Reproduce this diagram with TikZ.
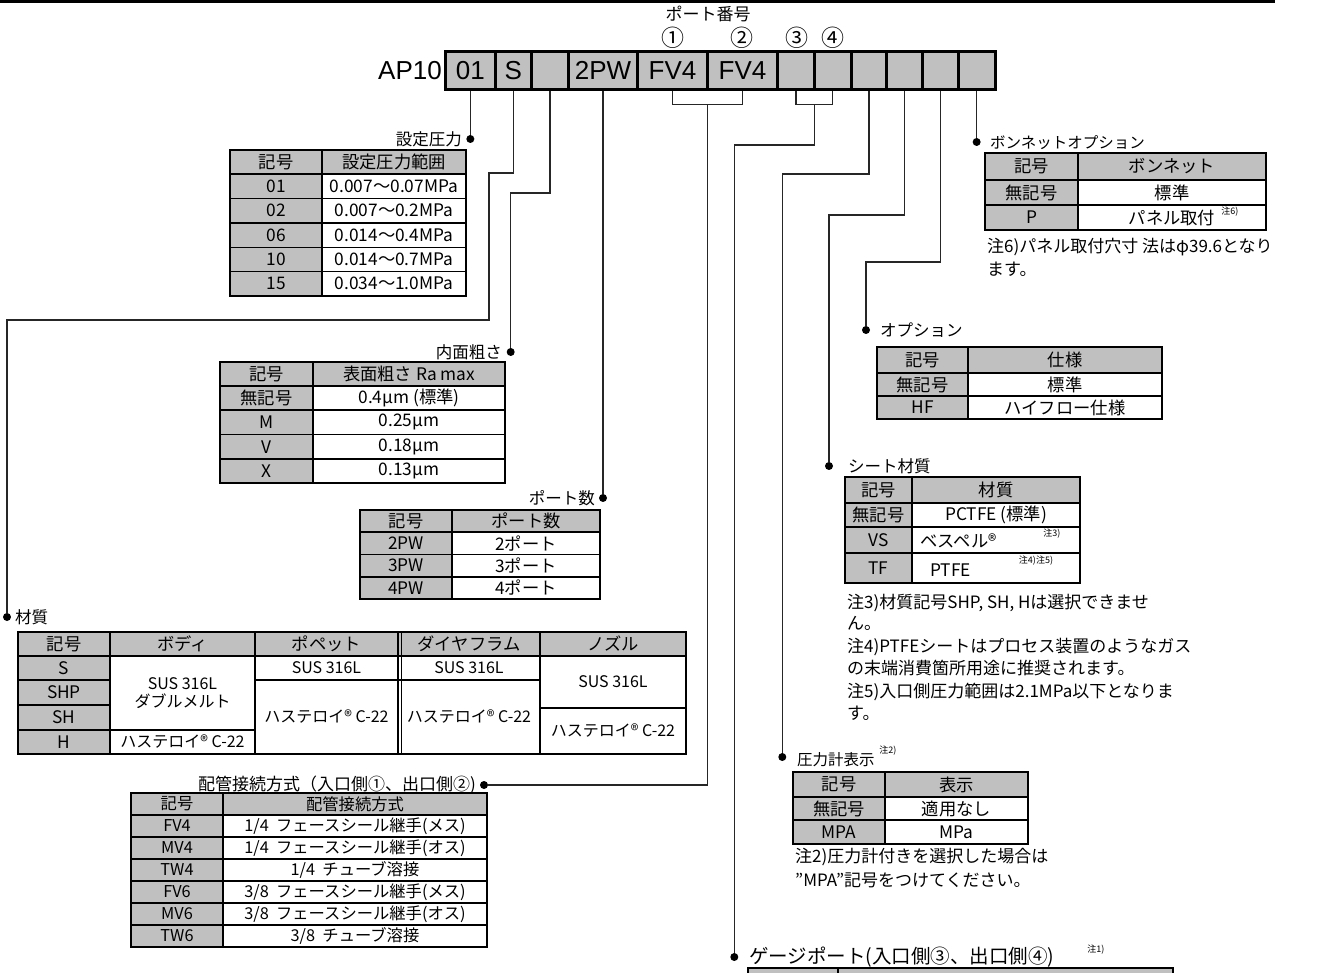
\documentclass[tikz,border=0pt]{standalone}
\usepackage{fontspec}
\setmainfont{Noto Sans CJK JP}
\newfontfamily\lat{Liberation Sans}
\definecolor{cg}{HTML}{C0C0C0}
\newcounter{cellno}
\newcommand{\tcell}[6]{%
  \stepcounter{cellno}%
  \path[draw=black,line width=1.2pt,fill=#5] (#1,#2) rectangle (#3,#4);
  \node[tx] (cell-\arabic{cellno}) at ({(#1+#3)/2},{(#2+#4)/2}) {#6};}
\begin{document}
\begin{tikzpicture}[x=1pt,y=-1pt,
  conn/.style={draw=black!85,line width=1.3pt},
  dot/.style={circle,fill=black,inner sep=0pt,minimum size=8pt},
  kbox/.style={draw=black,line width=3pt,fill=cg,minimum height=38.3pt,inner sep=0pt,font=\lat\fontsize{26}{28}\selectfont},
  lab/.style={inner sep=0pt,font=\fontsize{16.5}{19}\selectfont},
  circ/.style={inner sep=0pt,font=\fontsize{23}{25}\selectfont},
  tx/.style={inner sep=0pt,font=\fontsize{17.3}{19}\selectfont,align=center},
  note/.style={inner sep=0pt,anchor=west,font=\fontsize{17}{19}\selectfont},
  supnote/.style={inner sep=0pt,font=\fontsize{9}{10}\selectfont},
  outer/.style={draw=black,line width=2.2pt}
]
\useasboundingbox (0,0) rectangle (1318,973);
\draw[line width=3pt] (0,2) -- (1275,2);

% ---------- header code boxes ----------
\node[font=\lat\fontsize{26}{28}\selectfont,anchor=east,inner sep=0pt] (ap) at (442,71) {AP10};
\node[kbox,minimum width=49.3pt] (k1) at (470.35,70.85) {01};
\node[kbox,minimum width=36.7pt] (k2) at (513.35,70.85) {S};
\node[kbox,minimum width=36.6pt] (k3) at (550,70.85) {};
\node[kbox,minimum width=69.4pt] (k4) at (603,70.85) {2PW};
\node[kbox,minimum width=69.6pt] (k5) at (672.5,70.85) {FV4};
\node[kbox,minimum width=70.4pt] (k6) at (742.5,70.85) {FV4};
\node[kbox,minimum width=36.6pt] (k7) at (796,70.85) {};
\node[kbox,minimum width=36.7pt] (k8) at (832.65,70.85) {};
\node[kbox,minimum width=35.7pt] (k9) at (868.85,70.85) {};
\node[kbox,minimum width=35.6pt] (k10) at (904.5,70.85) {};
\node[kbox,minimum width=36pt] (k11) at (940.3,70.85) {};
\node[kbox,minimum width=36.7pt] (k12) at (976.65,70.85) {};

\node[lab,font=\fontsize{17}{19}\selectfont] (pn) at (708,14) {ポート番号};
\node[circ] (n1) at (673,38) {①};
\node[circ] (n2) at (742,38) {②};
\node[circ] (n3) at (797,38) {③};
\node[circ] (n4) at (833,38) {④};

% ---------- bullets and labels ----------
\node[dot] (d1) at (470.35,139) {};
\node[lab,anchor=east] (l1) at (462,139) {設定圧力};
\node[dot] (d2) at (7,617) {};
\node[lab,anchor=west] (l2) at (15,617) {材質};
\node[dot] (d3) at (510.7,352) {};
\node[lab,anchor=east] (l3) at (502,352) {内面粗さ};
\node[dot] (d4) at (603,498) {};
\node[lab,anchor=east] (l4) at (595,498) {ポート数};
\node[dot] (d6) at (484,785) {};
\node[lab,anchor=east,font=\fontsize{17}{19}\selectfont] (l6) at (476,785) {配管接続方式（入口側①、出口側②)};
\node[dot] (d7) at (734.3,957) {};
\node[lab,anchor=west,font=\fontsize{19.5}{21}\selectfont] (l7) at (749,957) {ゲージポート(入口側③、出口側④)};
\node[supnote] (s7) at (1096,950) {注1)};
\node[dot] (d9) at (782.3,757) {};
\node[lab,anchor=west,font=\fontsize{15.5}{18}\selectfont] (l9) at (797,760) {圧力計表示};
\node[supnote] (s9) at (888,751) {注2)};
\node[dot] (d10) at (829,466) {};
\node[lab,anchor=west] (l10) at (848,466) {シート材質};
\node[dot] (d11) at (866,330) {};
\node[lab,anchor=west] (l11) at (880,330) {オプション};
\node[dot] (d12) at (976.65,142) {};
\node[lab,anchor=west,font=\fontsize{15.5}{18}\selectfont] (l12) at (990,143) {ボンネットオプション};

% ---------- connectors ----------
\coordinate (m56) at (707.3,104.5);
\coordinate (m78) at (814.3,104.5);
\draw[conn] (k1.south) -- (d1);
\draw[conn] (k2.south) |- (489,173) -- (489,320) -| (d2);
\draw[conn] (k3.south) |- (510.7,193) -- (d3);
\draw[conn,line width=2.2pt] (k4.south) -- (d4);
\draw[conn] (k5.south) |- (m56) -| (k6.south);
\draw[conn] (m56) |- (d6);
\draw[conn] (k7.south) |- (m78) -| (k8.south);
\draw[conn] (m78) |- (734.3,145) -- (d7);
\draw[conn] (k9.south) |- (782.3,174) -- (d9);
\draw[conn] (k10.south) |- (829,215) -- (d10);
\draw[conn] (k11.south) |- (866,262) -- (d11);
\draw[conn] (k12.south) -- (d12);

% ---------- table: set pressure ----------
\tcell{230}{150}{322}{174}{cg}{記号}
\tcell{322}{150}{466}{174}{cg}{設定圧力範囲}
\tcell{230}{174}{322}{198.5}{cg}{01}
\tcell{322}{174}{466}{198.5}{white}{0.007～0.07MPa}
\tcell{230}{198.5}{322}{223}{cg}{02}
\tcell{322}{198.5}{466}{223}{white}{0.007～0.2MPa}
\tcell{230}{223}{322}{247.5}{cg}{06}
\tcell{322}{223}{466}{247.5}{white}{0.014～0.4MPa}
\tcell{230}{247.5}{322}{271.5}{cg}{10}
\tcell{322}{247.5}{466}{271.5}{white}{0.014～0.7MPa}
\tcell{230}{271.5}{322}{296}{cg}{15}
\tcell{322}{271.5}{466}{296}{white}{0.034～1.0MPa}
\draw[outer] (230,150) rectangle (466,296);

% ---------- table: roughness ----------
\tcell{220}{362}{313}{386}{cg}{記号}
\tcell{313}{362}{505}{386}{cg}{表面粗さ Ra max}
\tcell{220}{386}{313}{410}{cg}{無記号}
\tcell{313}{386}{505}{410}{white}{0.4μm (標準)}
\tcell{220}{410}{313}{434.5}{cg}{M}
\tcell{313}{410}{505}{434.5}{white}{0.25μm}
\tcell{220}{434.5}{313}{459}{cg}{V}
\tcell{313}{434.5}{505}{459}{white}{0.18μm}
\tcell{220}{459}{313}{483}{cg}{X}
\tcell{313}{459}{505}{483}{white}{0.13μm}
\draw[outer] (220,362) rectangle (505,483);

% ---------- table: ports ----------
\tcell{360}{510}{452}{532}{cg}{記号}
\tcell{452}{510}{600}{532}{cg}{ポート数}
\tcell{360}{532}{452}{554.5}{cg}{2PW}
\tcell{452}{532}{600}{554.5}{white}{2ポート}
\tcell{360}{554.5}{452}{577}{cg}{3PW}
\tcell{452}{554.5}{600}{577}{white}{3ポート}
\tcell{360}{577}{452}{599}{cg}{4PW}
\tcell{452}{577}{600}{599}{white}{4ポート}
\draw[outer] (360,510) rectangle (600,599);

% ---------- table: material ----------
\begin{scope}[tx/.append style={font=\fontsize{16}{18.5}\selectfont}]
\tcell{18}{632}{110}{656}{cg}{\fontsize{17.3}{19}\selectfont 記号}
\tcell{110}{632}{255}{656}{cg}{\fontsize{17.3}{19}\selectfont ボディ}
\tcell{255}{632}{398}{656}{cg}{\fontsize{17.3}{19}\selectfont ポペット}
\tcell{398}{632}{540}{656}{cg}{\fontsize{17.3}{19}\selectfont ダイヤフラム}
\tcell{540}{632}{686}{656}{cg}{\fontsize{17.3}{19}\selectfont ノズル}
\tcell{18}{656}{110}{680}{cg}{\fontsize{17.3}{19}\selectfont S}
\tcell{18}{680}{110}{705}{cg}{\fontsize{17.3}{19}\selectfont SHP}
\tcell{18}{705}{110}{730}{cg}{\fontsize{17.3}{19}\selectfont SH}
\tcell{18}{730}{110}{754}{cg}{\fontsize{17.3}{19}\selectfont H}
\tcell{110}{656}{255}{730}{white}{SUS 316L\\ダブルメルト}
\tcell{110}{730}{255}{754}{white}{ハステロイ® C-22}
\tcell{255}{656}{398}{680}{white}{SUS 316L}
\tcell{255}{680}{398}{754}{white}{ハステロイ® C-22}
\tcell{398}{656}{540}{680}{white}{SUS 316L}
\tcell{398}{680}{540}{754}{white}{ハステロイ® C-22}
\tcell{540}{656}{686}{708}{white}{SUS 316L}
\tcell{540}{708}{686}{754}{white}{ハステロイ® C-22}
\end{scope}
\draw[line width=1pt] (401.5,632) -- (401.5,754);
\draw[outer] (18,632) rectangle (686,754);

% ---------- table: piping ----------
\begin{scope}[tx/.append style={font=\fontsize{16.3}{18}\selectfont}]
\tcell{131}{793}{223}{815}{cg}{記号}
\tcell{223}{793}{487}{815}{cg}{配管接続方式}
\tcell{131}{815}{223}{837}{cg}{FV4}
\tcell{223}{815}{487}{837}{white}{1/4\ \ フェースシール継手(メス)}
\tcell{131}{837}{223}{859}{cg}{MV4}
\tcell{223}{837}{487}{859}{white}{1/4\ \ フェースシール継手(オス)}
\tcell{131}{859}{223}{881}{cg}{TW4}
\tcell{223}{859}{487}{881}{white}{1/4\ \ チューブ溶接}
\tcell{131}{881}{223}{903}{cg}{FV6}
\tcell{223}{881}{487}{903}{white}{3/8\ \ フェースシール継手(メス)}
\tcell{131}{903}{223}{925}{cg}{MV6}
\tcell{223}{903}{487}{925}{white}{3/8\ \ フェースシール継手(オス)}
\tcell{131}{925}{223}{947}{cg}{TW6}
\tcell{223}{925}{487}{947}{white}{3/8\ \ チューブ溶接}
\end{scope}
\draw[outer] (131,793) rectangle (487,947);

% ---------- table: bonnet ----------
\tcell{985}{153}{1078}{180}{cg}{記号}
\tcell{1078}{153}{1266}{180}{cg}{ボンネット}
\tcell{985}{180}{1078}{205}{cg}{無記号}
\tcell{1078}{180}{1266}{205}{white}{標準}
\tcell{985}{205}{1078}{230}{cg}{P}
\tcell{1078}{205}{1266}{230}{white}{パネル取付}
\node[supnote] (s12) at (1230,212) {注6)};
\draw[outer] (985,153) rectangle (1266,230);
\node[note] (t12a) at (987,247) {注6)パネル取付穴寸 法はφ39.6となり};
\node[note] (t12b) at (987,269) {ます。};

% ---------- table: option ----------
\tcell{877}{347}{968}{373}{cg}{記号}
\tcell{968}{347}{1162}{373}{cg}{仕様}
\tcell{877}{373}{968}{396}{cg}{無記号}
\tcell{968}{373}{1162}{396}{white}{標準}
\tcell{877}{396}{968}{419}{cg}{HF}
\tcell{968}{396}{1162}{419}{white}{ハイフロー仕様}
\draw[outer] (877,347) rectangle (1162,419);

% ---------- table: seat ----------
\tcell{845}{477}{912}{503}{cg}{記号}
\tcell{912}{477}{1080}{503}{cg}{材質}
\tcell{845}{503}{912}{527}{cg}{無記号}
\tcell{912}{503}{1080}{527}{white}{PCTFE (標準)}
\tcell{845}{527}{912}{553}{cg}{VS}
\path[draw=black,line width=1.2pt,fill=white] (912,527) rectangle (1080,553);
\node[tx,anchor=west] (vs) at (920,541) {ベスペル®};
\node[supnote] (s10a) at (1052,534) {注3)};
\tcell{845}{553}{912}{583}{cg}{TF}
\path[draw=black,line width=1.2pt,fill=white] (912,553) rectangle (1080,583);
\node[tx,anchor=west] (tf) at (930,570) {PTFE};
\node[supnote] (s10b) at (1036,561) {注4)注5)};
\draw[outer] (845,477) rectangle (1080,583);
\node[note] (t10a) at (847,603) {注3)材質記号SHP,\ SH,\ Hは選択できませ};
\node[note] (t10b) at (847,623) {ん。};
\node[note] (t10c) at (847,647) {注4)PTFEシートはプロセス装置のようなガス};
\node[note] (t10d) at (847,668) {の末端消費箇所用途に推奨されます。};
\node[note] (t10e) at (847,692) {注5)入口側圧力範囲は2.1MPa以下となりま};
\node[note] (t10f) at (847,713) {す。};

% ---------- table: gauge display ----------
\tcell{793}{772}{885}{797}{cg}{記号}
\tcell{885}{772}{1028}{797}{cg}{表示}
\tcell{793}{797}{885}{820}{cg}{無記号}
\tcell{885}{797}{1028}{820}{white}{適用なし}
\tcell{793}{820}{885}{844}{cg}{MPA}
\tcell{885}{820}{1028}{844}{white}{MPa}
\draw[outer] (793,772) rectangle (1028,844);
\node[note] (t9a) at (795,857) {注2)圧力計付きを選択した場合は};
\node[note] (t9b) at (795,880) {”MPA”記号をつけてください。};

% ---------- table: gauge port (cut) ----------
\path[draw=black,line width=1.2pt,fill=cg] (748,968) rectangle (838,995);
\path[draw=black,line width=1.2pt,fill=cg] (838,968) rectangle (1173,995);
\draw[outer] (748,968) rectangle (1173,995);
\end{tikzpicture}
\end{document}
